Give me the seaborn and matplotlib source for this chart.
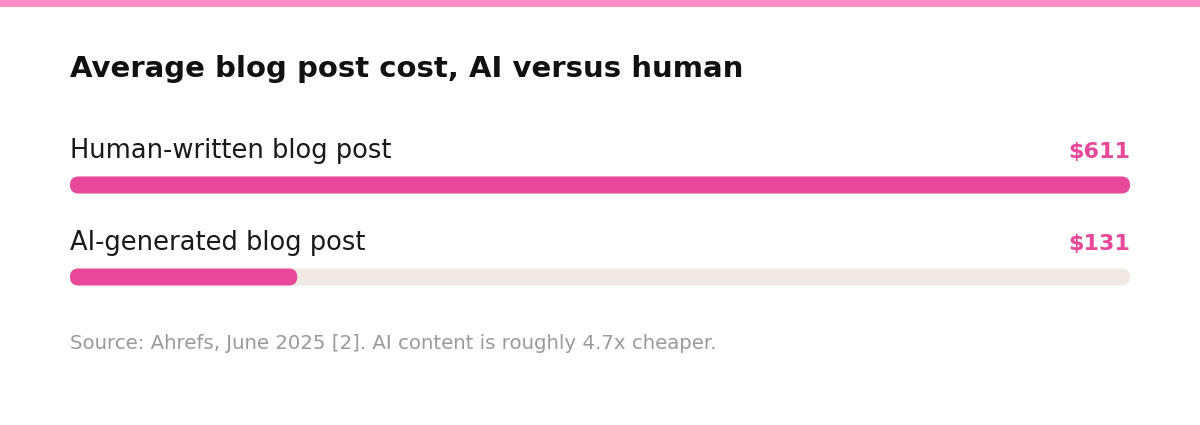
import matplotlib
matplotlib.use("Agg")
import matplotlib.pyplot as plt
import seaborn as sns
import pandas as pd
from matplotlib.patches import FancyBboxPatch, Rectangle

# ---- data ----
categories = ["Human-written blog post", "AI-generated blog post"]
values = [611, 131]
value_labels = ["$611", "$131"]
title = "Average blog post cost, AI versus human"
source = "Source: Ahrefs, June 2025 [2]. AI content is roughly 4.7x cheaper."

PINK = "#E8489A"
TRACK = "#EFE8E3"
TOP = "#FF8EC8"
DARK = "#1A1A1A"
GRAY = "#9A9A9A"

sns.set_theme(style="white")
plt.rcParams["font.family"] = ["DejaVu Sans"]

W, H = 1200, 425
fig = plt.figure(figsize=(12, 4.25), dpi=100)
fig.patch.set_facecolor("white")

# top accent strip
fig.patches.append(Rectangle((0, 1 - 7 / H), 1, 7 / H, transform=fig.transFigure,
                             facecolor=TOP, edgecolor="none", zorder=0))

# bar axes: x 0..max -> px 70..1130, rows centered at px 185 and 277
row_gap = 92
top_px = 185 - row_gap / 2
ax = fig.add_axes([70 / W, 1 - (top_px + 2 * row_gap) / H, 1060 / W, 2 * row_gap / H])

df = pd.DataFrame({"category": categories, "value": values})
track_df = pd.DataFrame({"category": categories, "value": [max(values)] * len(values)})
bar_h = 17 / row_gap

sns.barplot(data=track_df, x="value", y="category", color=TRACK, width=bar_h,
            saturation=1, ax=ax, orient="h")
sns.barplot(data=df, x="value", y="category", color=PINK, width=bar_h,
            saturation=1, ax=ax, orient="h")

xmax = max(values)
ax.set_xlim(0, xmax)
ax.set_ylim(1.5, -0.5)

# round the bar ends
x_per_px = xmax / 1060
y_per_px = 1 / row_gap
r_px = 8.5
patches = list(ax.patches)
for p in patches:
    x, y, w, h = p.get_x(), p.get_y(), p.get_width(), p.get_height()
    fc = p.get_facecolor()
    p.remove()
    fb = FancyBboxPatch((x, y), w, h,
                        boxstyle=f"round,pad=0,rounding_size={r_px * x_per_px}",
                        mutation_aspect=y_per_px / x_per_px,
                        facecolor=fc, edgecolor="none")
    ax.add_patch(fb)

for i, (cat, lab) in enumerate(zip(categories, value_labels)):
    ax.text(0, i - 27 * y_per_px, cat, ha="left", va="baseline",
            fontsize=18.5, color=DARK)
    ax.text(xmax, i - 27 * y_per_px, lab, ha="right", va="baseline",
            fontsize=16, color=PINK, fontweight="bold")

ax.axis("off")

fig.text(70 / W, 1 - 77 / H, title, ha="left", va="baseline",
         fontsize=21, fontweight="bold", color="#111111")
fig.text(70 / W, 1 - 349 / H, source, ha="left", va="baseline",
         fontsize=14.2, color=GRAY)

fig.savefig("out.png", dpi=100, facecolor="white")
